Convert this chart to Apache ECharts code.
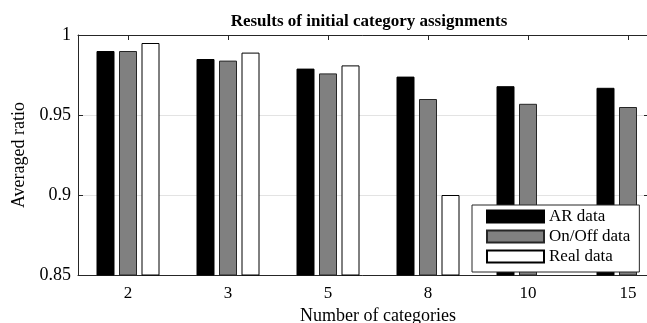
<!DOCTYPE html>
<html>
<head>
<meta charset="utf-8">
<script src="https://cdn.jsdelivr.net/npm/echarts@6/dist/echarts.min.js"></script>
<style>html,body{margin:0;padding:0;background:#fff;}#c{width:647px;height:323px;}</style>
</head>
<body>
<div id="c"></div>
<script>
const categories = ['2', '3', '5', '8', '10', '15'];
const arData = [0.990, 0.985, 0.979, 0.974, 0.968, 0.967];
const onOffData = [0.990, 0.984, 0.976, 0.960, 0.957, 0.955];
const realData = [0.995, 0.989, 0.981, 0.900, 0.840, 0.830];
const yTicks = [0.85, 0.9, 0.95, 1];

const FONT = 'Liberation Serif';
const AX = '#262626';
const chart = echarts.init(document.getElementById('c'), null, {renderer: 'canvas'});
const barBase = {
  type: 'bar', barWidth: 18, barGap: '25%', animation: false, clip: true
};
chart.setOption({
  animation: false,
  textStyle: {fontFamily: FONT},
  title: {
    text: 'Results of initial category assignments',
    left: 364, top: 8, textAlign: 'center',
    textStyle: {fontFamily: FONT, fontWeight: 'bold', fontSize: 17, color: '#000'}
  },
  grid: {left: 78, right: -31, top: 35, bottom: 48, containLabel: false, outerBoundsMode: 'none'},
  legend: {
    orient: 'vertical', left: 472, top: 205,
    itemWidth: 57, itemHeight: 12, itemGap: 3,
    padding: [3, 9, 7, 14],
    backgroundColor: '#fff', borderColor: AX, borderWidth: 1, borderRadius: 0,
    icon: 'rect',
    textStyle: {fontFamily: FONT, fontSize: 17, color: '#000'},
    data: ['AR data', 'On/Off data', 'Real data']
  },
  xAxis: [{
    type: 'category', data: categories, position: 'bottom',
    name: 'Number of categories', nameLocation: 'middle', nameGap: 27,
    nameTextStyle: {fontFamily: FONT, fontSize: 18, color: '#000'},
    axisLine: {show: true, lineStyle: {color: AX, width: 1}},
    axisTick: {show: true, alignWithLabel: true, inside: true, length: 5, lineStyle: {color: AX}},
    axisLabel: {fontFamily: FONT, fontSize: 17, color: '#000', margin: 10},
    splitLine: {show: false}
  }, {
    type: 'category', data: categories, position: 'top',
    axisLine: {show: true, lineStyle: {color: AX, width: 1}},
    axisTick: {show: true, alignWithLabel: true, inside: true, length: 5, lineStyle: {color: AX}},
    axisLabel: {show: false}, splitLine: {show: false}
  }],
  yAxis: [{
    type: 'value', min: 0.85, max: 1, interval: 0.05,
    name: 'Averaged ratio', nameLocation: 'middle', nameGap: 50, nameRotate: 90,
    nameTextStyle: {fontFamily: FONT, fontSize: 18, color: '#000'},
    axisLine: {show: true, lineStyle: {color: AX, width: 1}},
    axisTick: {show: true, inside: true, length: 5, lineStyle: {color: AX}},
    axisLabel: {fontFamily: FONT, fontSize: 18, color: '#000', margin: 7,
      formatter: v => { const t = yTicks.find(x => Math.abs(x - v) < 1e-9); return t === undefined ? '' : String(t); }},
    splitLine: {show: true, lineStyle: {color: '#e3e3e3', width: 1}}
  }, {
    type: 'value', min: 0.85, max: 1, interval: 0.05, position: 'right', offset: -29,
    axisLine: {show: false},
    axisTick: {show: true, inside: true, length: 5, lineStyle: {color: AX}},
    axisLabel: {show: false}, splitLine: {show: false}
  }],
  series: [
    Object.assign({}, barBase, {name: 'AR data', data: arData,
      itemStyle: {color: '#000', borderColor: '#000', borderWidth: 1}}),
    Object.assign({}, barBase, {name: 'On/Off data', data: onOffData,
      itemStyle: {color: '#808080', borderColor: '#262626', borderWidth: 1}}),
    Object.assign({}, barBase, {name: 'Real data', data: realData,
      itemStyle: {color: '#fff', borderColor: '#000', borderWidth: 1}})
  ]
});
</script>
</body>
</html>
